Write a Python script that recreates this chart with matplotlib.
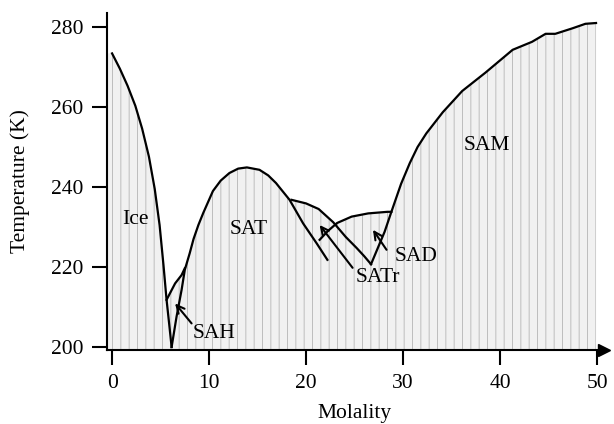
import matplotlib.pyplot as plt
import numpy as np

plt.rcParams['font.family'] = ['Liberation Serif', 'DejaVu Serif']
plt.rcParams['font.size'] = 15.5

# liquidus curves (molality, temperature in K)
ice_m = [0.0, 0.8, 1.6, 2.4, 3.1, 3.8, 4.4, 4.9, 5.3, 5.62, 5.9, 6.14]
ice_T = [273.4, 269.6, 265.3, 260.3, 254.6, 247.6, 239.5, 230.5, 220.5, 211.8, 205.5, 200.0]

sah_m = [5.62, 6.5, 7.17, 7.5]
sah_T = [211.8, 215.9, 218.0, 219.7]

sat_m = [6.14, 6.65, 7.17, 7.5, 8.0, 8.4, 8.9, 9.4, 10.4, 11.2, 12.1, 13.0, 13.9, 15.2, 16.1, 16.9,
         18.3, 19.7, 21.1, 22.2]
sat_T = [200.0, 207.6, 214.3, 219.3, 223.4, 227.0, 230.5, 233.5, 239.0, 241.6, 243.5, 244.6, 244.9,
         244.3, 242.9, 241.0, 236.8, 230.9, 225.9, 221.8]

satr_m = [18.5, 20.0, 21.3, 22.8, 24.1, 25.2, 26.0, 26.7]
satr_T = [236.8, 235.9, 234.5, 231.2, 227.5, 224.8, 222.7, 220.7]

sad_m = [21.4, 22.25, 23.2, 24.7, 26.4, 28.4, 28.8]
sad_T = [226.8, 229.0, 231.0, 232.6, 233.4, 233.8, 233.8]

sam_m = [26.7, 28.1, 28.8, 29.8, 30.7, 31.5, 32.4, 34.1, 36.1, 38.5, 41.3, 43.3, 44.7, 45.7,
         47.5, 48.8, 49.9]
sam_T = [220.7, 228.8, 233.8, 240.8, 246.0, 250.0, 253.4, 258.7, 264.0, 268.6, 274.3, 276.3,
         278.3, 278.3, 279.7, 280.8, 281.0]

curves = [(ice_m, ice_T), (sah_m, sah_T), (sat_m, sat_T),
          (satr_m, satr_T), (sad_m, sad_T), (sam_m, sam_T)]

# region labels: (text, molality, T)
labels = [('Ice', 2.4, 232.0), ('SAT', 14.1, 229.3), ('SAM', 38.6, 250.4),
          ('SAH', 10.5, 203.5), ('SATr', 27.4, 217.3), ('SAD', 31.3, 222.7)]
# arrows: (head, tail)
arrows = [((6.5, 210.9), (8.2, 205.9)),
          ((21.4, 230.5), (24.8, 219.8)),
          ((26.9, 229.3), (28.3, 224.3))]

xmin, xmax = -0.52, 50.72
ymin, ymax = 199.25, 283.5

fig = plt.figure(figsize=(6.14, 4.24), dpi=100)
ax = fig.add_axes([0.1743, 0.1745, 0.8094, 0.7948])

# stippled area under the upper envelope of all curves
grid = np.linspace(xmin, 49.9, 1200)
env = np.full_like(grid, ymin)
for m, T in curves:
    lo = T[0] if m is ice_m else ymin
    env = np.maximum(env, np.interp(grid, m, T, left=lo, right=ymin))
plt.rcParams['hatch.linewidth'] = 0.7
plt.rcParams['hatch.color'] = '#bdbdbd'
ax.fill_between(grid, ymin, env, facecolor='#f1f1f1', edgecolor='none',
                hatch='||', linewidth=0, zorder=1)

for m, T in curves:
    ax.plot(m, T, color='k', lw=1.6, zorder=3, solid_joinstyle='round')

for txt, x, y in labels:
    ax.text(x, y, txt, ha='center', va='center', zorder=4)

for head, tail in arrows:
    ax.annotate('', xy=head, xytext=tail, zorder=4,
                arrowprops=dict(arrowstyle='->', lw=1.5, color='k',
                                mutation_scale=14, shrinkA=0, shrinkB=0))

ax.set_xlim(xmin, xmax)
ax.set_ylim(ymin, ymax)
ax.set_xticks(range(0, 51, 10))
ax.set_yticks(range(200, 281, 20))
ax.tick_params(direction='out', length=11, width=1.5, pad=6, labelsize=15.5)
for s in ['top', 'right']:
    ax.spines[s].set_visible(False)
for s in ['left', 'bottom']:
    ax.spines[s].set_linewidth(1.5)
ax.plot(1, 0, '>', color='k', ms=9, transform=ax.transAxes, clip_on=False)

ax.set_xlabel('Molality')
ax.set_ylabel('Temperature (K)')
ax.xaxis.set_label_coords(0.497, -0.16)
ax.yaxis.set_label_coords(-0.155, 0.5)

fig.savefig('out.png', dpi=100)
